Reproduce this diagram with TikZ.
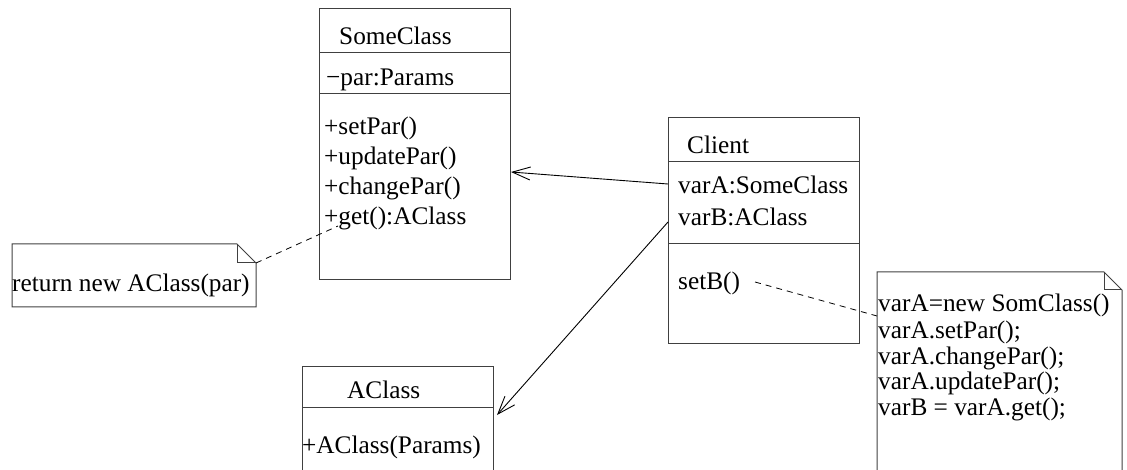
\documentclass[tikz,border=0pt]{standalone}
\usepackage{fontspec}
\setmainfont{Liberation Serif}
\usetikzlibrary{arrows.meta}
\begin{document}
\begin{tikzpicture}[x=1pt,y=-1pt,
  box/.style={draw=black!75, line width=1pt, inner sep=0pt, anchor=north west},
  txt/.style={anchor=base west, inner sep=0pt, font=\fontsize{25.3}{30}\selectfont},
  sep/.style={draw=black!75, line width=1pt},
  assoc/.style={draw=black, line width=0.9pt, -{Straight Barb[length=18pt,width=13pt,line width=0.9pt]}},
  notebox/.style={draw=black!75, line width=1pt, line join=miter},
  dashedline/.style={draw=black, line width=0.8pt, dash pattern=on 6pt off 5pt}]
\useasboundingbox (0,0) rectangle (1127,470);
\clip (0,0) rectangle (1127,470);

% SomeClass
\node[box, minimum width=191pt, minimum height=271pt] (someclass) at (319,8) {};
\draw[sep] (319,53) -- (510,53);
\draw[sep] (319,94) -- (510,94);
\node[txt] (scT) at (339,45) {SomeClass};
\node[txt] (scA) at (326,86) {−par:Params};
\node[txt] (scM1) at (324,135) {+setPar()};
\node[txt] (scM2) at (324,165) {+updatePar()};
\node[txt] (scM3) at (324,195) {+changePar()};
\node[txt] (scM4) at (324,225) {+get():AClass};

% Client
\node[box, minimum width=191pt, minimum height=226pt] (client) at (668,117) {};
\draw[sep] (668,162) -- (859,162);
\draw[sep] (668,244) -- (859,244);
\node[txt] (clT) at (687,154) {Client};
\node[txt] (clA) at (678,194) {varA:SomeClass};
\node[txt] (clB) at (678,226) {varB:AClass};
\node[txt] (clM) at (678,290) {setB()};

% AClass
\node[box, minimum width=191pt, minimum height=130pt] (aclass) at (302,366) {};
\draw[sep] (302,407) -- (493,407);
\node[txt] (acT) at (347,398) {AClass};
\node[txt] (acM) at (302,453) {+AClass(Params)};

% Note 1
\draw[notebox] (12,244) -- (237,244) -- (256,263) -- (256,307) -- (12,307) -- cycle;
\draw[notebox] (237,244) -- (237,263) -- (256,263);
\node[txt] (n1t) at (12,292) {return new AClass(par)};
\coordinate (n1c) at (256,263);

% Note 2
\draw[notebox] (877,520) -- (877,272) -- (1104,272) -- (1122,290) -- (1122,520);
\draw[notebox] (1104,272) -- (1104,290) -- (1122,290);
\node[txt] (n2a) at (878,312) {varA=new SomClass()};
\node[txt] (n2b) at (878,338) {varA.setPar();};
\node[txt] (n2c) at (878,364) {varA.changePar();};
\node[txt] (n2d) at (878,389) {varA.updatePar();};
\node[txt] (n2e) at (878,415) {varB = varA.get();};
\coordinate (n2l) at (877,316);

% connectors
\coordinate (cA) at (668,184);
\coordinate (sA) at (511,172);
\coordinate (cB) at (668,222);
\coordinate (aB) at (497,415);
\coordinate (getEnd) at (338,226);
\coordinate (setBEnd) at (755,282);
\draw[assoc] (cA) -- (sA);
\draw[assoc] (cB) -- (aB);
\draw[dashedline] (n1c) -- (getEnd);
\draw[dashedline] (setBEnd) -- (n2l);
\end{tikzpicture}
\end{document}
